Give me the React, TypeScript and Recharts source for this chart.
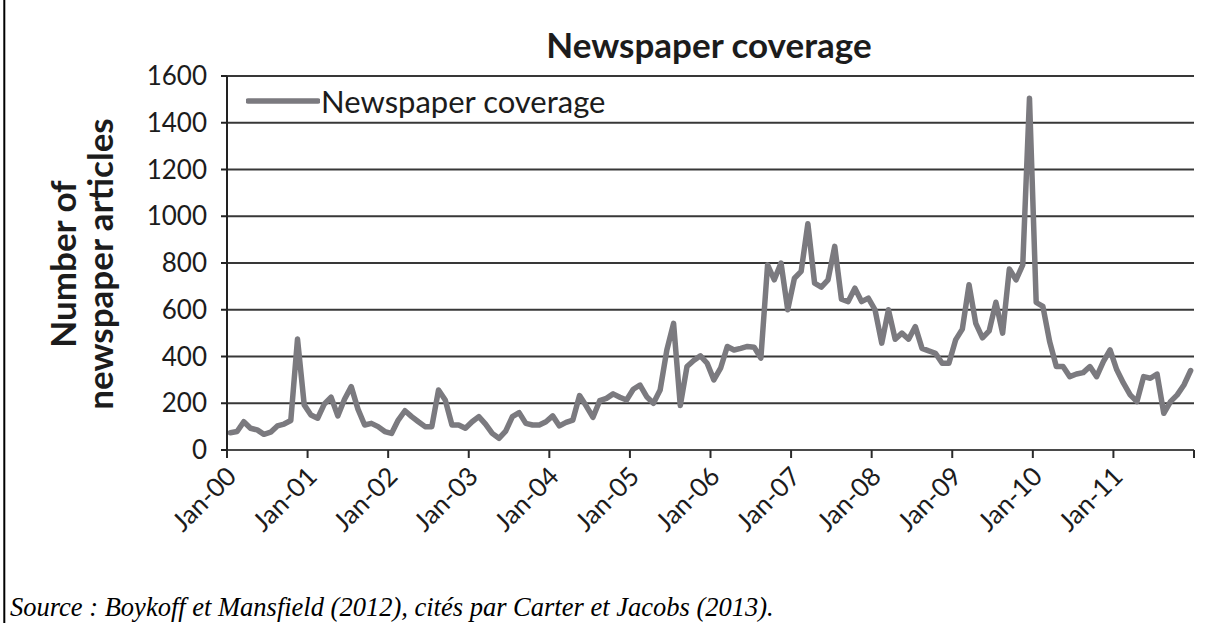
import { CartesianGrid, Legend, Line, LineChart, XAxis, YAxis } from "recharts";

// monthly newspaper article counts, Jan 2000 - Dec 2011
const Y2000 = [74, 79, 121, 93, 86, 67, 76, 103, 111, 126, 475, 193];
const Y2001 = [150, 136, 197, 226, 146, 217, 271, 175, 107, 114, 100, 79];
const Y2002 = [71, 128, 168, 143, 121, 100, 100, 257, 214, 107, 107, 93];
const Y2003 = [121, 143, 111, 71, 50, 81, 143, 160, 114, 107, 107, 121];
const Y2004 = [146, 103, 118, 128, 233, 188, 140, 211, 221, 240, 226, 214];
const Y2005 = [260, 278, 228, 200, 257, 428, 542, 190, 357, 383, 403, 371];
const Y2006 = [300, 350, 443, 428, 435, 443, 440, 393, 792, 728, 800, 600];
const Y2007 = [735, 764, 968, 714, 697, 728, 871, 645, 635, 692, 635, 650];
const Y2008 = [600, 457, 600, 474, 500, 474, 528, 435, 424, 414, 371, 371];
const Y2009 = [471, 517, 707, 542, 480, 510, 632, 500, 774, 728, 792, 1505];
const Y2010 = [631, 614, 464, 357, 357, 314, 325, 331, 357, 314, 378, 428];
const Y2011 = [343, 286, 236, 207, 314, 307, 325, 157, 207, 236, 278, 340];

const YEAR_LABELS = [
  "Jan-00", "Jan-01", "Jan-02", "Jan-03", "Jan-04", "Jan-05",
  "Jan-06", "Jan-07", "Jan-08", "Jan-09", "Jan-10", "Jan-11",
];
const Y_TICKS = [0, 200, 400, 600, 800, 1000, 1200, 1400, 1600];

const SERIES_NAME = "Newspaper coverage";

const monthly = [
  ...Y2000, ...Y2001, ...Y2002, ...Y2003, ...Y2004, ...Y2005,
  ...Y2006, ...Y2007, ...Y2008, ...Y2009, ...Y2010, ...Y2011,
];

// each month sits in the middle of its slot, year ticks fall on slot edges
const data = monthly.map((v, i) => ({ t: i + 0.5, articles: v }));
const xTicks = [...YEAR_LABELS.map((_, k) => k * 12), monthly.length];

const FONT = "Lato, 'Open Sans', sans-serif";
const LINE_GREY = "#7b7a7f";
const INK = "#1c1c1c";

function YearTick(props: any) {
  const { x, y, payload } = props;
  const label = YEAR_LABELS[Math.round(payload.value / 12)];
  if (!label) return null;
  const ax = x + 11;
  const ay = y + 20;
  return (
    <text
      x={ax}
      y={ay}
      textAnchor="end"
      transform={`rotate(-45 ${ax} ${ay})`}
      fontFamily={FONT}
      fontSize={26}
      fill={INK}
    >
      {label}
    </text>
  );
}

function LegendBox() {
  return (
    <div style={{ display: "flex", alignItems: "center", fontFamily: FONT, fontSize: 31, color: INK }}>
      <svg width={74} height={10} style={{ display: "block" }}>
        <line x1={2} y1={5} x2={72} y2={5} stroke={LINE_GREY} strokeWidth={5.5} strokeLinecap="round" />
      </svg>
      <span style={{ marginLeft: 1, lineHeight: "34px", whiteSpace: "nowrap" }}>{SERIES_NAME}</span>
    </div>
  );
}

export default function App() {
  return (
    <div style={{ position: "absolute", left: 0, top: 0, width: 1223, height: 623, background: "#fff", overflow: "hidden" }}>
      <LineChart
        width={1223}
        height={623}
        data={data}
        margin={{ top: 76, right: 29, bottom: 113, left: 147 }}
      >
        <CartesianGrid vertical={false} stroke="#383838" strokeWidth={2} horizontalValues={Y_TICKS} />
        <XAxis
          dataKey="t"
          type="number"
          domain={[0, monthly.length]}
          ticks={xTicks}
          interval={0}
          height={60}
          tickSize={8}
          tickMargin={0}
          tick={<YearTick />}
          axisLine={{ stroke: "#4a4a4a", strokeWidth: 2 }}
          tickLine={{ stroke: "#2a2a2a", strokeWidth: 2 }}
        />
        <YAxis
          domain={[0, 1600]}
          ticks={Y_TICKS}
          interval={0}
          width={80}
          tickSize={6}
          tickMargin={14}
          tick={{ fontFamily: FONT, fontSize: 26, fill: INK }}
          axisLine={{ stroke: "#222", strokeWidth: 2 }}
          tickLine={{ stroke: "#222", strokeWidth: 2 }}
        />
        <Legend
          layout="vertical"
          align="center"
          verticalAlign="middle"
          wrapperStyle={{ left: 246, top: 84, width: "auto", height: "auto" }}
          content={<LegendBox />}
        />
        <Line
          type="linear"
          dataKey="articles"
          name={SERIES_NAME}
          stroke={LINE_GREY}
          strokeWidth={5.5}
          strokeLinejoin="round"
          strokeLinecap="round"
          dot={false}
          activeDot={false}
          isAnimationActive={false}
        />
      </LineChart>
      <svg width={1223} height={623} style={{ position: "absolute", left: 0, top: 0, pointerEvents: "none" }}>
        <line x1={4.3} y1={0} x2={4.3} y2={623} stroke="#000" strokeWidth={2} />
        <text x={709} y={58} textAnchor="middle" fontFamily={FONT} fontWeight={700} fontSize={35} fill={INK}>
          Newspaper coverage
        </text>
        <text transform="translate(76 264) rotate(-90)" textAnchor="middle" fontFamily={FONT} fontWeight={700} fontSize={35} fill={INK}>
          Number of
        </text>
        <text transform="translate(113 264) rotate(-90)" textAnchor="middle" fontFamily={FONT} fontWeight={700} fontSize={35} fill={INK}>
          newspaper articles
        </text>
        <text x={10} y={616} fontFamily="'Liberation Serif', 'Times New Roman', serif" fontStyle="italic" fontSize={26.5} fill="#000">
          Source : Boykoff et Mansfield (2012), cités par Carter et Jacobs (2013).
        </text>
      </svg>
    </div>
  );
}
